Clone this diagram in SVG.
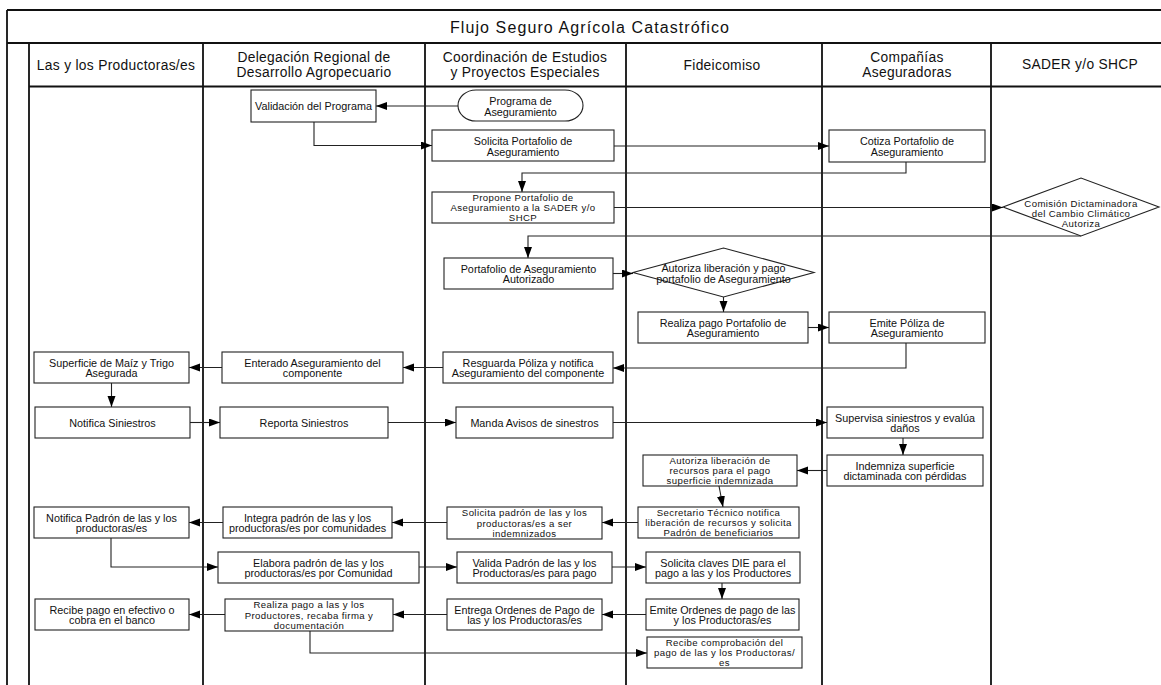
<svg xmlns="http://www.w3.org/2000/svg" width="1161" height="685" viewBox="0 0 1161 685">
<style>
.frame{stroke:#111;stroke-width:1.8;fill:none}
.box{fill:#fff;stroke:#222;stroke-width:1.1}
text{font-family:"Liberation Sans",Arial,sans-serif;fill:#111;text-anchor:middle;dominant-baseline:central}
.t{font-size:10.8px}
.ts{font-size:9.6px;letter-spacing:0.4px}
.h{font-size:13.8px;letter-spacing:0.3px}
.title{font-size:16px;letter-spacing:1.1px}
.conn path{fill:none;stroke:#222;stroke-width:1.1;marker-end:url(#arr)}
</style>
<defs>
<marker id="arr" markerUnits="userSpaceOnUse" markerWidth="12" markerHeight="9" refX="11" refY="4" orient="auto">
<path d="M0,0 L11,4 L0,8 Z" fill="#000"/>
</marker>
</defs>
<rect width="1161" height="685" fill="#fff"/>
<g id="frame">
<path class="frame" d="M7,10 H1161 M7,10 V685 M7,43 H1161 M29,43 V685 M29,86.5 H1161 M203,43 V685 M425,43 V685 M626,43 V685 M822,43 V685 M991,43 V685"/>
<text class="title" x="590" y="27">Flujo Seguro Agrícola Catastrófico</text>
<text class="h" x="116" y="65">Las y los Productoras/es</text>
<text class="h" x="314" y="57">Delegación Regional de</text>
<text class="h" x="314" y="72">Desarrollo Agropecuario</text>
<text class="h" x="525" y="57">Coordinación de Estudios</text>
<text class="h" x="525" y="72">y Proyectos Especiales</text>
<text class="h" x="722" y="65">Fideicomiso</text>
<text class="h" x="907" y="57">Compañías</text>
<text class="h" x="907" y="72">Aseguradoras</text>
<text class="h" x="1080" y="64">SADER y/o SHCP</text>
</g>
<g class="conn" id="connectors">
<path d="M458,106 H376"/>
<path d="M314,122 V145.5 H432"/>
<path d="M614,146 H829"/>
<path d="M906,162 V173 H522 V192"/>
<path d="M614,207.5 H1003"/>
<path d="M1081,236 H528 V258"/>
<path d="M613,273.5 H633"/>
<path d="M723.5,297 V312"/>
<path d="M808,327.5 H829"/>
<path d="M906,343 V368 H613"/>
<path d="M443,367.5 H403"/>
<path d="M222,367.5 H189"/>
<path d="M111.5,383 V407"/>
<path d="M190,422.5 H220"/>
<path d="M388,422.5 H456"/>
<path d="M613,422.5 H827"/>
<path d="M903,438 V455"/>
<path d="M827,470.5 H797"/>
<path d="M719,486 L723,507"/>
<path d="M638,522.5 H602"/>
<path d="M447,522.5 H392"/>
<path d="M223,522.5 H189"/>
<path d="M111,538 V567 H218"/>
<path d="M419,567 H457"/>
<path d="M612,567 H646"/>
<path d="M722,583 V599"/>
<path d="M646,614.5 H602"/>
<path d="M447,614.5 H393"/>
<path d="M225,614.5 H189"/>
<path d="M310,631 V653 H647"/>
</g>
<g id="n-validacion"><rect class="box" x="251" y="90" width="125" height="32"/><text class="t" x="313.5" y="106">Validación del Programa</text></g>
<g id="n-programa"><rect class="box" x="458" y="90" width="125" height="31" rx="18" ry="15.5"/><text class="t" x="520.5" y="101">Programa de</text><text class="t" x="520.5" y="112">Aseguramiento</text></g>
<g id="n-solicita-portafolio"><rect class="box" x="432" y="130" width="182" height="31"/><text class="t" x="523" y="141">Solicita Portafolio de</text><text class="t" x="523" y="152">Aseguramiento</text></g>
<g id="n-cotiza"><rect class="box" x="829" y="130" width="156" height="32"/><text class="t" x="907" y="141">Cotiza Portafolio de</text><text class="t" x="907" y="152">Aseguramiento</text></g>
<g id="n-propone"><rect class="box" x="432" y="192" width="182" height="31"/><text class="ts" x="523" y="197.5">Propone Portafolio de</text><text class="ts" x="523" y="207.7">Aseguramiento a la SADER y/o</text><text class="ts" x="523" y="217.9">SHCP</text></g>
<g id="n-comision"><polygon class="box" points="1003,207 1081,178 1159,207 1081,236"/><text class="ts" x="1081" y="203">Comisión Dictaminadora</text><text class="ts" x="1081" y="213.2">del Cambio Climático</text><text class="ts" x="1081" y="223.4">Autoriza</text></g>
<g id="n-portafolio-autorizado"><rect class="box" x="444" y="258" width="169" height="31"/><text class="t" x="528.5" y="268.5">Portafolio de Aseguramiento</text><text class="t" x="528.5" y="279">Autorizado</text></g>
<g id="n-autoriza-pago"><polygon class="box" points="633,272.5 723.5,248 814,272.5 723.5,297"/><text class="t" x="723.5" y="268">Autoriza liberación y pago</text><text class="t" x="723.5" y="278.5">portafolio de Aseguramiento</text></g>
<g id="n-realiza-pago-portafolio"><rect class="box" x="638" y="312" width="170" height="31"/><text class="t" x="723" y="322.5">Realiza pago Portafolio de</text><text class="t" x="723" y="333">Aseguramiento</text></g>
<g id="n-emite-poliza"><rect class="box" x="829" y="312" width="156" height="31"/><text class="t" x="907" y="322.5">Emite Póliza de</text><text class="t" x="907" y="333">Aseguramiento</text></g>
<g id="n-superficie"><rect class="box" x="34" y="352" width="155" height="31"/><text class="t" x="111.5" y="362.5">Superficie de Maíz y Trigo</text><text class="t" x="111.5" y="373">Asegurada</text></g>
<g id="n-enterado"><rect class="box" x="222" y="352" width="181" height="31"/><text class="t" x="312.5" y="362.5">Enterado Aseguramiento del</text><text class="t" x="312.5" y="373">componente</text></g>
<g id="n-resguarda"><rect class="box" x="443" y="352" width="170" height="31"/><text class="t" x="528" y="362.5">Resguarda Póliza y notifica</text><text class="t" x="528" y="373">Aseguramiento del componente</text></g>
<g id="n-notifica-siniestros"><rect class="box" x="35" y="407" width="155" height="31"/><text class="t" x="112.5" y="422.5">Notifica Siniestros</text></g>
<g id="n-reporta"><rect class="box" x="220" y="407" width="168" height="31"/><text class="t" x="304" y="422.5">Reporta Siniestros</text></g>
<g id="n-manda"><rect class="box" x="456" y="407" width="157" height="31"/><text class="t" x="534.5" y="422.5">Manda Avisos de sinestros</text></g>
<g id="n-supervisa"><rect class="box" x="827" y="407" width="156" height="31"/><text class="t" x="905" y="417.5">Supervisa siniestros y evalúa</text><text class="t" x="905" y="428">daños</text></g>
<g id="n-autoriza-lib"><rect class="box" x="643" y="455" width="154" height="31"/><text class="ts" x="720" y="460.3">Autoriza liberación de</text><text class="ts" x="720" y="470.5">recursos para el pago</text><text class="ts" x="720" y="480.7">superficie indemnizada</text></g>
<g id="n-indemniza"><rect class="box" x="827" y="455" width="156" height="31"/><text class="t" x="905" y="465.5">Indemniza superficie</text><text class="t" x="905" y="476">dictaminada con pérdidas</text></g>
<g id="n-notifica-padron"><rect class="box" x="34" y="507" width="155" height="31"/><text class="t" x="111.5" y="517.5">Notifica Padrón de las y los</text><text class="t" x="111.5" y="528">productoras/es</text></g>
<g id="n-integra"><rect class="box" x="223" y="507" width="169" height="31"/><text class="t" x="307.5" y="517.5">Integra padrón de las y los</text><text class="t" x="307.5" y="528">productoras/es por comunidades</text></g>
<g id="n-solicita-padron"><rect class="box" x="447" y="507" width="155" height="32"/><text class="ts" x="524.5" y="512.8">Solicita padrón de las y los</text><text class="ts" x="524.5" y="523">productoras/es a ser</text><text class="ts" x="524.5" y="533.2">indemnizados</text></g>
<g id="n-secretario"><rect class="box" x="638" y="507" width="161" height="31"/><text class="ts" x="718.5" y="512.3">Secretario Técnico notifica</text><text class="ts" x="718.5" y="522.5">liberación de recursos y solicita</text><text class="ts" x="718.5" y="532.7">Padrón de beneficiarios</text></g>
<g id="n-elabora"><rect class="box" x="218" y="552" width="201" height="31"/><text class="t" x="318.5" y="562.5">Elabora padrón de las y los</text><text class="t" x="318.5" y="573">productoras/es por Comunidad</text></g>
<g id="n-valida"><rect class="box" x="457" y="552" width="155" height="31"/><text class="t" x="534.5" y="562.5">Valida Padrón de las y los</text><text class="t" x="534.5" y="573">Productoras/es para pago</text></g>
<g id="n-solicita-claves"><rect class="box" x="646" y="552" width="154" height="31"/><text class="t" x="723" y="562.5">Solicita claves DIE para el</text><text class="t" x="723" y="573">pago a las y los Productores</text></g>
<g id="n-recibe-pago"><rect class="box" x="35" y="599" width="154" height="31"/><text class="t" x="112" y="609.5">Recibe pago en efectivo o</text><text class="t" x="112" y="620">cobra en el banco</text></g>
<g id="n-realiza-pago-prod"><rect class="box" x="225" y="599" width="168" height="32"/><text class="ts" x="309" y="604.8">Realiza pago a las y los</text><text class="ts" x="309" y="615">Productores,  recaba firma y</text><text class="ts" x="309" y="625.2">documentación</text></g>
<g id="n-entrega"><rect class="box" x="447" y="599" width="155" height="31"/><text class="t" x="524.5" y="609.5">Entrega Ordenes de Pago de</text><text class="t" x="524.5" y="620">las y los Productoras/es</text></g>
<g id="n-emite-ordenes"><rect class="box" x="646" y="599" width="153" height="31"/><text class="t" x="722.5" y="609.5">Emite Ordenes de pago de las</text><text class="t" x="722.5" y="620">y los Productoras/es</text></g>
<g id="n-recibe-comprobacion"><rect class="box" x="647" y="637" width="155" height="31"/><text class="ts" x="724.5" y="642.3">Recibe comprobación del</text><text class="ts" x="724.5" y="652.5">pago de las y los Productoras/</text><text class="ts" x="724.5" y="662.7">es</text></g>
</svg>
